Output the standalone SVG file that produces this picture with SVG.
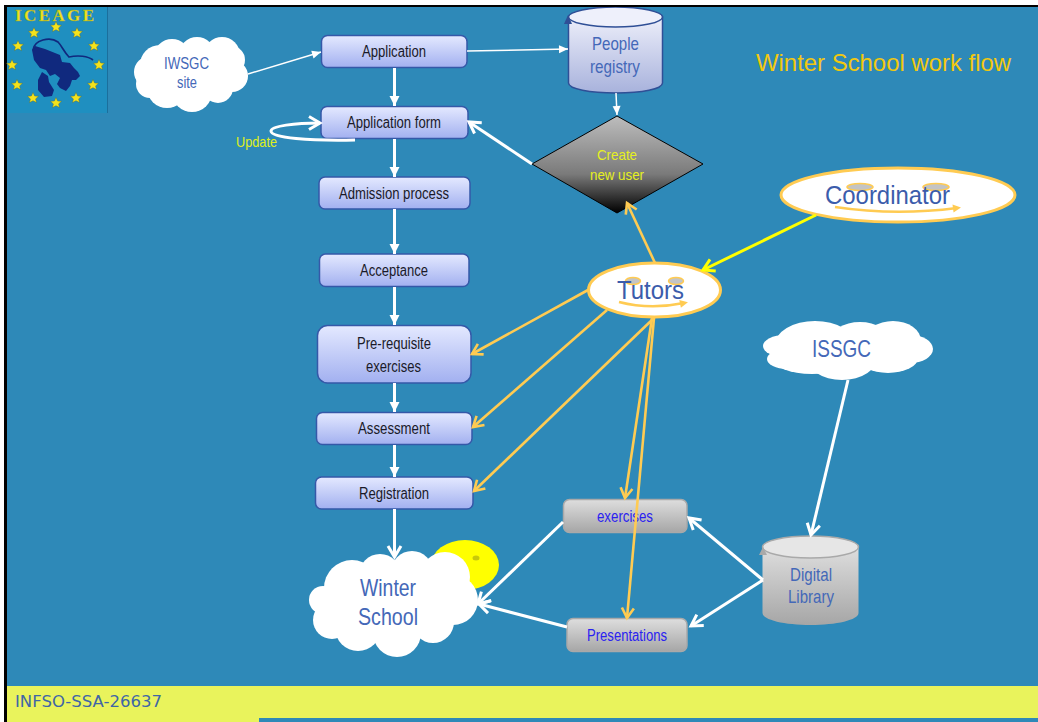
<svg xmlns="http://www.w3.org/2000/svg" width="1038" height="722" viewBox="0 0 1038 722">
<style>
text{font-family:"Liberation Sans",Arial,sans-serif;text-anchor:middle}
.box{fill:url(#gBox);stroke:#3558a8;stroke-width:1.5}
.gbox{fill:url(#gGrey);stroke:#a9a9a9;stroke-width:1.5}
.bt{font-size:16px;fill:#1a1a28}
.nt{fill:#4468b8}
.gt{font-size:16px;fill:#2a22f0}
.cloud{fill:#fff}
.face{fill:#fff;stroke:#ffcb52;stroke-width:3}
.eye{fill:#c4c4c4;stroke:#ffcb52;stroke-width:1.5}
.smile{fill:none;stroke:#ffcb52;stroke-width:2.5;marker-end:url(#smileHead)}
.wa{fill:none;stroke:#fff;stroke-width:3;marker-end:url(#openW)}
.wf{stroke:#fff;stroke-width:3;marker-end:url(#fillW)}
.wn{stroke:#fff;stroke-width:1.5;marker-end:url(#fillWs)}
.o{stroke:#ffcb52;stroke-width:2.6;marker-end:url(#openO)}
.y{stroke:#ffff00;stroke-width:3;marker-end:url(#openY)}
</style>
<defs>
<linearGradient id="gBox" x1="0" y1="0" x2="0" y2="1"><stop offset="0" stop-color="#e4e9ff"/><stop offset="1" stop-color="#a2b0f0"/></linearGradient>
<linearGradient id="gGrey" x1="0" y1="0" x2="0" y2="1"><stop offset="0" stop-color="#dedede"/><stop offset="1" stop-color="#a6a6a6"/></linearGradient>
<linearGradient id="gPeople" x1="0" y1="0" x2="0" y2="1"><stop offset="0" stop-color="#eceefa"/><stop offset="1" stop-color="#a8b2dc"/></linearGradient>
<linearGradient id="gDia" x1="0" y1="0" x2="0" y2="1"><stop offset="0" stop-color="#bdbdbd"/><stop offset="0.6" stop-color="#7a7a7a"/><stop offset="1" stop-color="#000"/></linearGradient>
<marker id="openW" markerUnits="userSpaceOnUse" markerWidth="20" markerHeight="20" refX="14" refY="8" orient="auto" overflow="visible"><path d="M3,1.500L14,8L3,14.500" fill="none" stroke="#fff" stroke-width="3"/></marker>
<marker id="openO" markerUnits="userSpaceOnUse" markerWidth="20" markerHeight="20" refX="14" refY="8" orient="auto" overflow="visible"><path d="M4,2L14,8L4,14" fill="none" stroke="#ffcb52" stroke-width="2.6"/></marker>
<marker id="openY" markerUnits="userSpaceOnUse" markerWidth="20" markerHeight="20" refX="14" refY="8" orient="auto" overflow="visible"><path d="M3,1.500L14,8L3,14.500" fill="none" stroke="#ffff00" stroke-width="3"/></marker>
<marker id="fillW" markerUnits="userSpaceOnUse" markerWidth="12" markerHeight="12" refX="10" refY="5" orient="auto" overflow="visible"><path d="M0,0L10,5L0,10Z" fill="#fff"/></marker>
<marker id="fillWs" markerUnits="userSpaceOnUse" markerWidth="12" markerHeight="12" refX="9" refY="4" orient="auto" overflow="visible"><path d="M0,0L9,4L0,8Z" fill="#fff"/></marker>
<marker id="smileHead" markerUnits="userSpaceOnUse" markerWidth="10" markerHeight="10" refX="4" refY="4" orient="auto" overflow="visible"><path d="M0,0L8,4L0,8Z" fill="#ffcb52"/></marker>
<polygon id="star" points="0,-5.500 1.600,-2 5.500,-1.700 2.600,0.900 3.500,4.600 0,2.700 -3.500,4.600 -2.600,0.900 -5.500,-1.700 -1.600,-2" fill="#f4e21c" stroke="#5a6a30" stroke-width="0.4"/>
</defs>

<rect x="0" y="0" width="1038" height="722" fill="#fff"/>
<rect x="4" y="5" width="1034" height="717" fill="#000"/>
<rect x="7" y="7" width="1031" height="715" fill="#2e89b8"/>

<g id="footer">
<rect x="7" y="686" width="1031" height="32" fill="#e9f35c"/>
<rect x="7" y="718" width="252" height="4" fill="#e9f35c"/>
<text x="88.500" y="707" font-size="15" fill="#3f66a6" style="font-family:'DejaVu Sans',sans-serif" textLength="147" lengthAdjust="spacingAndGlyphs">INFSO-SSA-26637</text>
</g>

<g id="logo">
<rect x="7" y="7" width="100" height="106" fill="#1f8fc0"/>
<rect x="107" y="7" width="1" height="106" fill="#1b6f9c"/>
<text x="54.500" y="21" font-size="17" font-weight="bold" fill="#eee21c" stroke="#8f9a30" stroke-width="0.3" style="font-family:'Liberation Serif',serif" textLength="79" lengthAdjust="spacing">ICEAGE</text>
<use href="#star" x="56" y="27"/><use href="#star" x="34" y="33"/><use href="#star" x="77" y="33"/>
<use href="#star" x="18" y="46"/><use href="#star" x="94" y="46"/><use href="#star" x="12" y="65"/>
<use href="#star" x="99" y="65"/><use href="#star" x="17" y="85"/><use href="#star" x="93" y="85"/>
<use href="#star" x="33" y="98"/><use href="#star" x="76" y="98"/><use href="#star" x="56" y="103"/>
<path d="M32,50L35,46L45,49L55,53L60,55L62,62L70,63L74,68L78,72L80,76L76,80L72,80L70,86L66,91L60,88L57,84L60,78L55,74L50,76L46,70L40,68L34,60Z" fill="#10297e"/>
<path d="M42,72L48,76L49,82L54,90L52,96L44,97L38,90L38,80Z" fill="#10297e"/>
<path d="M33,50C34,40 50,36 58,42C62,46 64,52 69,57C78,55 88,56 93,60" fill="none" stroke="#10297e" stroke-width="1.700"/>
</g>

<g id="title"><text x="883.500" y="71" font-size="24" fill="#f2c80f" textLength="255" lengthAdjust="spacingAndGlyphs">Winter School work flow</text></g>

<g id="iwsgc">
<g class="cloud"><circle cx="172" cy="57" r="18"/><circle cx="160" cy="65" r="20"/><circle cx="197" cy="55" r="18"/><circle cx="222" cy="55" r="18"/><circle cx="231" cy="60" r="14"/><circle cx="232" cy="76" r="16"/><circle cx="218" cy="88" r="15"/><circle cx="192" cy="92" r="20"/><circle cx="167" cy="88" r="20"/><circle cx="150" cy="84" r="14"/><circle cx="150" cy="72" r="16"/><circle cx="190" cy="75" r="30"/></g>
<text class="nt" x="186.500" y="69" font-size="16" textLength="45" lengthAdjust="spacingAndGlyphs">IWSGC</text>
<text class="nt" x="187" y="88" font-size="16" textLength="20" lengthAdjust="spacingAndGlyphs">site</text>
</g>

<g id="application"><rect class="box" x="321.500" y="35.500" width="145.500" height="32" rx="6"/><text class="bt" x="394" y="57" textLength="64" lengthAdjust="spacingAndGlyphs">Application</text></g>
<g id="application-form"><rect class="box" x="321" y="106.500" width="147" height="32" rx="6"/><text class="bt" x="394" y="128" textLength="94" lengthAdjust="spacingAndGlyphs">Application form</text></g>
<g id="admission"><rect class="box" x="319" y="177" width="151" height="32" rx="6"/><text class="bt" x="394" y="199" textLength="110" lengthAdjust="spacingAndGlyphs">Admission process</text></g>
<g id="acceptance"><rect class="box" x="319.500" y="254" width="149.500" height="32.500" rx="6"/><text class="bt" x="394" y="276" textLength="68" lengthAdjust="spacingAndGlyphs">Acceptance</text></g>
<g id="prerequisite"><rect class="box" x="317.500" y="325.500" width="153.500" height="57.500" rx="10"/><text class="bt" x="394" y="349" textLength="74" lengthAdjust="spacingAndGlyphs">Pre-requisite</text><text class="bt" x="393.500" y="372" textLength="55" lengthAdjust="spacingAndGlyphs">exercises</text></g>
<g id="assessment"><rect class="box" x="316.500" y="412.500" width="155.500" height="32" rx="6"/><text class="bt" x="394" y="434" textLength="72" lengthAdjust="spacingAndGlyphs">Assessment</text></g>
<g id="registration"><rect class="box" x="315.500" y="477" width="157.500" height="32" rx="6"/><text class="bt" x="394" y="499" textLength="70" lengthAdjust="spacingAndGlyphs">Registration</text></g>

<g id="people-registry">
<path d="M568.500,17V83C568.500,89 590,93 616,93S662.500,89 662.500,83V17Z" fill="url(#gPeople)" stroke="#2f4f96" stroke-width="1.500"/>
<ellipse cx="615.500" cy="17" rx="47" ry="10" fill="#eef0fb" stroke="#2f4f96" stroke-width="1.500"/>
<path d="M564,24L568,15L572,24Z" fill="#2f4f96"/>
<rect x="560" y="5" width="110" height="2" fill="#000"/>
<text class="nt" x="615.500" y="50" font-size="19" textLength="47" lengthAdjust="spacingAndGlyphs">People</text>
<text class="nt" x="615" y="73" font-size="19" textLength="50" lengthAdjust="spacingAndGlyphs">registry</text>
</g>

<g id="create-user">
<polygon points="617,116 703,164 617,213 532,164" fill="url(#gDia)" stroke="#000" stroke-width="1"/>
<text x="617" y="160" font-size="15" fill="#e6f01e" textLength="40" lengthAdjust="spacingAndGlyphs">Create</text>
<text x="617" y="180" font-size="15" fill="#e6f01e" textLength="54" lengthAdjust="spacingAndGlyphs">new user</text>
</g>

<g id="coordinator">
<ellipse class="face" cx="898" cy="195" rx="117" ry="27"/>
<ellipse class="eye" cx="860" cy="187" rx="13" ry="3.500"/><ellipse class="eye" cx="936" cy="187" rx="13" ry="3.500"/>
<path class="smile" d="M835,207Q895,216 957,208"/>
<text x="887.500" y="204" font-size="26" fill="#3b5cab" textLength="125" lengthAdjust="spacingAndGlyphs">Coordinator</text>
</g>

<g id="tutors">
<ellipse class="face" cx="654.500" cy="290" rx="66" ry="27"/>
<ellipse class="eye" cx="633" cy="281" rx="7.500" ry="3.500"/><ellipse class="eye" cx="676" cy="281" rx="7.500" ry="3.500"/>
<path class="smile" d="M619,302Q650,310 684,303"/>
<text x="650.500" y="299" font-size="25" fill="#3b5cab" textLength="67" lengthAdjust="spacingAndGlyphs">Tutors</text>
</g>

<g id="issgc">
<g class="cloud"><ellipse cx="785" cy="346" rx="22" ry="11"/><ellipse cx="787" cy="359" rx="20" ry="10"/><ellipse cx="815" cy="345" rx="40" ry="24"/><ellipse cx="812" cy="358" rx="40" ry="16"/><ellipse cx="842" cy="356" rx="36" ry="24"/><ellipse cx="860" cy="341" rx="30" ry="19"/><ellipse cx="893" cy="341" rx="28" ry="20"/><ellipse cx="910" cy="349" rx="23" ry="14"/><ellipse cx="888" cy="358" rx="30" ry="15"/></g>
<text class="nt" x="841.500" y="357" font-size="24" textLength="59" lengthAdjust="spacingAndGlyphs">ISSGC</text>
</g>

<g id="digital-library">
<path d="M762.500,547V613C762.500,620 785,625 810.500,625S858.500,620 858.500,613V547Z" fill="url(#gGrey)"/>
<ellipse cx="810.500" cy="547" rx="48" ry="11" fill="#e6e6e6" stroke="#a9a9a9" stroke-width="1.500"/>
<path d="M759,555L763,547L767,555Z" fill="#a9a9a9"/>
<text class="nt" x="811" y="581" font-size="19" textLength="42" lengthAdjust="spacingAndGlyphs">Digital</text>
<text class="nt" x="811" y="603" font-size="19" textLength="46" lengthAdjust="spacingAndGlyphs">Library</text>
</g>

<g id="exercises"><rect class="gbox" x="563.500" y="499.500" width="123.500" height="33" rx="6"/><text class="gt" x="625" y="522" textLength="56" lengthAdjust="spacingAndGlyphs">exercises</text></g>
<g id="presentations"><rect class="gbox" x="567" y="618.500" width="120" height="33" rx="6"/><text class="gt" x="627" y="641" textLength="80" lengthAdjust="spacingAndGlyphs">Presentations</text></g>

<g id="sun">
<ellipse cx="465" cy="565" rx="34" ry="25" fill="#ffff00"/>
<ellipse cx="476" cy="558" rx="3.500" ry="2.500" fill="#c8c80a"/>
</g>

<g id="winter-school">
<g class="cloud"><circle cx="352" cy="588" r="28"/><circle cx="380" cy="575" r="21"/><circle cx="412" cy="572" r="21"/><circle cx="445" cy="577" r="25"/><circle cx="453" cy="600" r="25"/><circle cx="433" cy="622" r="21"/><circle cx="397" cy="633" r="24"/><circle cx="358" cy="628" r="23"/><circle cx="332" cy="620" r="19"/><circle cx="323" cy="600" r="14"/><circle cx="390" cy="600" r="40"/></g>
<text class="nt" x="388" y="596" font-size="24" textLength="56" lengthAdjust="spacingAndGlyphs">Winter</text>
<text class="nt" x="388" y="625" font-size="24" textLength="60" lengthAdjust="spacingAndGlyphs">School</text>
</g>

<g id="update-label"><text x="256.500" y="147" font-size="15" fill="#e0f01a" textLength="41" lengthAdjust="spacingAndGlyphs">Update</text></g>

<g id="connectors">
<line class="wn" x1="248" y1="74" x2="321" y2="52"/>
<line class="wn" x1="467" y1="51" x2="568" y2="49"/>
<line class="wn" x1="616" y1="93" x2="617" y2="115"/>
<line class="wf" x1="394.500" y1="68" x2="394.500" y2="106"/>
<line class="wf" x1="394.500" y1="139" x2="394.500" y2="177"/>
<line class="wf" x1="394.500" y1="209" x2="394.500" y2="254"/>
<line class="wf" x1="394.500" y1="287" x2="394.500" y2="325"/>
<line class="wf" x1="394.500" y1="383" x2="394.500" y2="412"/>
<line class="wf" x1="394.500" y1="445" x2="394.500" y2="477"/>
<line class="wa" x1="394.500" y1="509" x2="394.500" y2="557"/>
<line class="wa" x1="532" y1="164" x2="469" y2="122"/>
<path class="wa" d="M355,140C310,141 271,138 271,131C271,126 295,123 320,123"/>
<line class="y" x1="816" y1="215" x2="703" y2="270"/>
<line class="o" x1="655" y1="263" x2="627" y2="203"/>
<line class="o" x1="588" y1="290" x2="472" y2="354"/>
<line class="o" x1="607" y1="310" x2="473" y2="427"/>
<line class="o" x1="654" y1="318" x2="474" y2="491"/>
<line class="o" x1="652" y1="318" x2="625" y2="498"/>
<line class="o" x1="654" y1="318" x2="627" y2="618"/>
<line class="wa" x1="848" y1="380" x2="811" y2="535"/>
<line class="wa" x1="763" y1="580" x2="689" y2="518"/>
<line class="wa" x1="763" y1="580" x2="691" y2="626"/>
<line class="wa" x1="563" y1="522" x2="478" y2="604"/>
<line class="wa" x1="567" y1="627" x2="479" y2="604"/>
</g>
</svg>
